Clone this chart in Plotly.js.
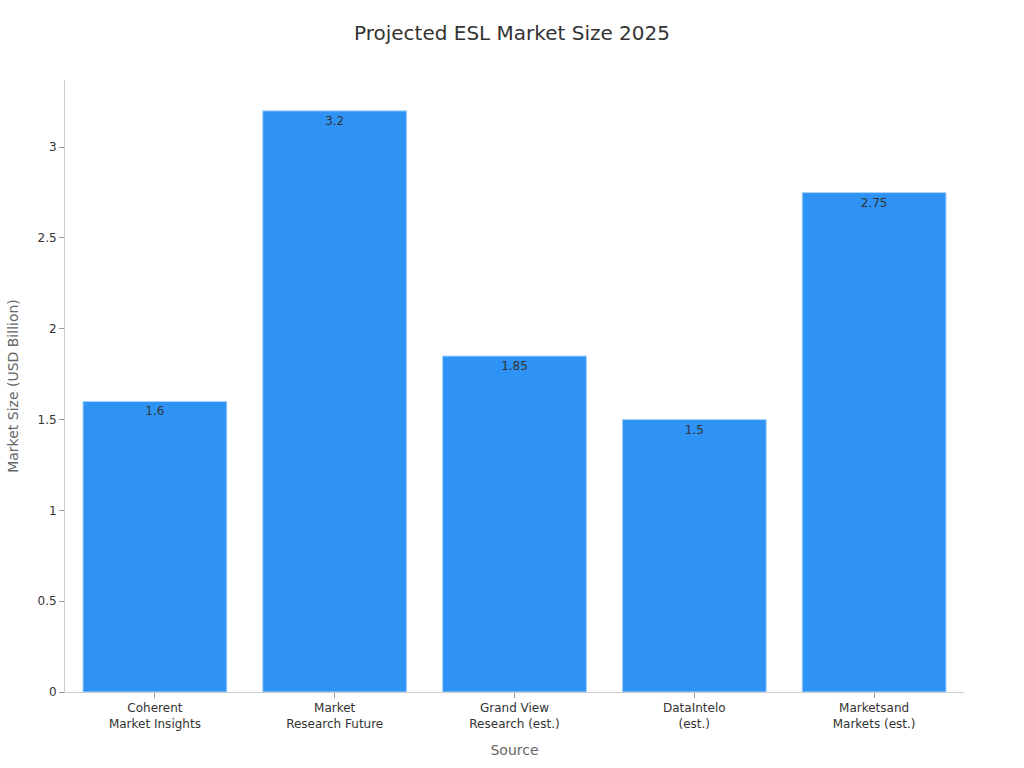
<!DOCTYPE html>
<html>
<head>
<meta charset="utf-8">
<script src="https://cdn.plot.ly/plotly-3.0.1.min.js"></script>
<style>html,body{margin:0;padding:0;background:#fff}#chart{width:1024px;height:768px}</style>
</head>
<body>
<div id="chart"></div>
<script>
const categories = ["Coherent<br>Market Insights", "Market<br>Research Future", "Grand View<br>Research (est.)", "DataIntelo<br>(est.)", "Marketsand<br>Markets (est.)"];
const values = [1.6, 3.2, 1.85, 1.5, 2.75];
const labels = ["1.6", "3.2", "1.85", "1.5", "2.75"];

const trace = {
  type: 'bar',
  x: categories,
  y: values,
  text: labels,
  textposition: 'inside',
  insidetextanchor: 'end',
  textfont: {family: 'DejaVu Sans', size: 12, color: '#333333'},
  marker: {color: '#2E93F5', line: {color: '#A9D3FB', width: 1}},
  hoverinfo: 'none'
};

const layout = {
  width: 1024, height: 768,
  margin: {l: 65, r: 60, t: 80, b: 76},
  paper_bgcolor: '#ffffff', plot_bgcolor: '#ffffff',
  font: {family: 'DejaVu Sans', color: '#333333', size: 12},
  title: {text: 'Projected ESL Market Size 2025', x: 0.5, xanchor: 'center', y: 0.957, yanchor: 'middle', font: {size: 20, color: '#333333'}},
  bargap: 0.2,
  showlegend: false,
  xaxis: {
    title: {text: 'Source', font: {size: 14, color: '#666666'}, standoff: 15},
    showline: true, linecolor: '#cccccc', linewidth: 1,
    ticks: 'outside', tickcolor: '#999999', ticklen: 5,
    tickfont: {size: 12, color: '#333333'},
    showgrid: false, zeroline: false
  },
  yaxis: {
    title: {text: 'Market Size (USD Billion)', font: {size: 14, color: '#666666'}, standoff: 15},
    range: [0, 3.37],
    dtick: 0.5,
    showline: true, linecolor: '#cccccc', linewidth: 1,
    ticks: 'outside', tickcolor: '#999999', ticklen: 5,
    tickfont: {size: 12, color: '#333333'},
    showgrid: false, zeroline: false
  }
};

Plotly.newPlot('chart', [trace], layout, {displayModeBar: false, staticPlot: true});
</script>
</body>
</html>
